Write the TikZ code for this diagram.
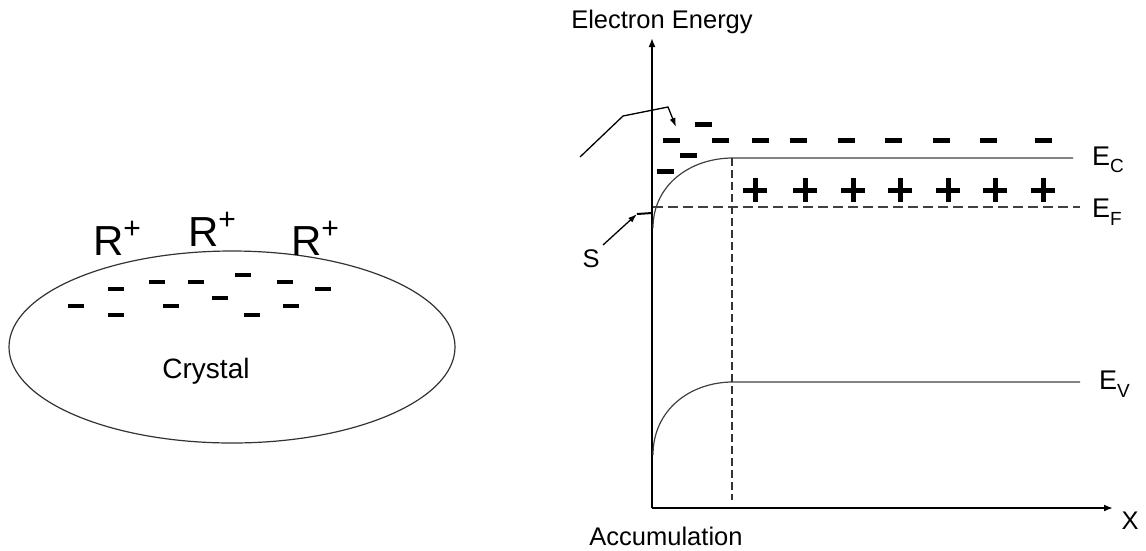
\documentclass[tikz,border=0pt]{standalone}
\usepackage{fontspec}
\setmainfont{Liberation Sans}
\usetikzlibrary{shapes.geometric,arrows.meta}
\newcommand{\lowsub}[1]{\raisebox{-0.28em}{\fontsize{19}{19}\selectfont #1}}
\newcommand{\Rplus}{R\raisebox{0.40em}{\fontsize{30}{30}\selectfont +}}
\tikzset{
  lbl/.style={inner sep=0pt, font=\fontsize{25.5}{25.5}\selectfont},
  elbl/.style={inner sep=0pt, anchor=west, font=\fontsize{27}{27}\selectfont},
  rlbl/.style={inner sep=0pt, font=\fontsize{42}{42}\selectfont},
  axis/.style={line width=2pt, -{Latex[length=9pt,width=7pt]}},
  band/.style={line width=1.2pt, draw=black!75},
  minus/.style={line width=4.5pt},
  bigminus/.style={line width=5pt},
  plusbar/.style={line width=5pt},
  ptr/.style={line width=1.3pt, -{Latex[length=9pt,width=6pt]}},
}
\begin{document}
\begin{tikzpicture}[x=1pt,y=-1pt]
\useasboundingbox (0,0) rectangle (1146,550);
% ---------- left: crystal ----------
\node[ellipse, draw=black!80, line width=1.2pt, minimum width=446pt, minimum height=192pt, inner sep=0pt] (crystal) at (232,347) {};
\node[lbl, font=\fontsize{28}{28}\selectfont] (ctext) at (206,371) {Crystal};
\node[rlbl] (r1) at (117,238) {\Rplus};
\node[rlbl] (r2) at (212,229) {\Rplus};
\node[rlbl] (r3) at (315,238) {\Rplus};
\foreach \x/\y in {76/306,116/289,116/315,157/282,171/306,196/282,220/298,243/275,252/315,285/282,291/306,323/289}
  \draw[minus] (\x-8,\y) -- (\x+8,\y);
% ---------- right: band diagram ----------
\coordinate (O) at (652,508);
\coordinate (ytip) at (652,38);
\coordinate (xtip) at (1113,508);
\draw[axis] (O) -- (ytip);
\draw[axis] (O) -- (xtip);
\node[lbl] (ylabel) at (662,22) {Electron Energy};
\node[lbl] (xlabel) at (1130,521) {X};
\node[lbl] (acc) at (666,536) {Accumulation};
% conduction band
\coordinate (ec0) at (653,228);
\coordinate (ec1) at (733,158);
\coordinate (ec2) at (1073,158);
\draw[band] (ec0) .. controls (653,185) and (690,158) .. (ec1) -- (ec2);
\node[elbl] (ECl) at (1092,160) {E\lowsub{C}};
% valence band
\coordinate (ev0) at (653,455);
\coordinate (ev1) at (733,382);
\coordinate (ev2) at (1080,382);
\draw[band] (ev0) .. controls (653,410) and (690,382) .. (ev1) -- (ev2);
\node[elbl] (EVl) at (1099,384) {E\lowsub{V}};
% Fermi level
\coordinate (ef0) at (653,207);
\coordinate (ef1) at (1080,207);
\draw[line width=1.2pt, draw=black!75, dash pattern=on 10pt off 5pt] (ef0) -- (ef1);
\node[elbl] (EFl) at (1092,212) {E\lowsub{F}};
% vertical dashed
\coordinate (vd0) at (732,158);
\coordinate (vd1) at (732,500);
\draw[line width=1.2pt, draw=black!80, dash pattern=on 8pt off 4pt] (vd0) -- (vd1);
% minus charges
\foreach \x/\y in {703/124,671/140,720/140,760/140,798/140,846/140,893/140,941/140,988/140,1043/140,688/155,665/171}
  \draw[bigminus] (\x-8.5,\y) -- (\x+8.5,\y);
% plus charges
\foreach \x in {755,805,853,900,948,995,1043}{
  \draw[plusbar] (\x-12,190) -- (\x+12,190);
  \draw[plusbar] (\x,178) -- (\x,202);
}
% S label and pointer
\node[lbl] (S) at (591,259) {S};
\coordinate (s0) at (603,245);
\coordinate (s1) at (637,214);
\coordinate (s2) at (652,213);
\draw[line width=2pt] (s1) -- (s2);
\draw[ptr] (s0) -- (s1);
% upper bent pointer
\coordinate (p0) at (580,157);
\coordinate (p1) at (623,116);
\coordinate (p2) at (668,107);
\coordinate (p3) at (676,127);
\draw[ptr] (p0) -- (p1) -- (p2) -- (p3);
\end{tikzpicture}
\end{document}
